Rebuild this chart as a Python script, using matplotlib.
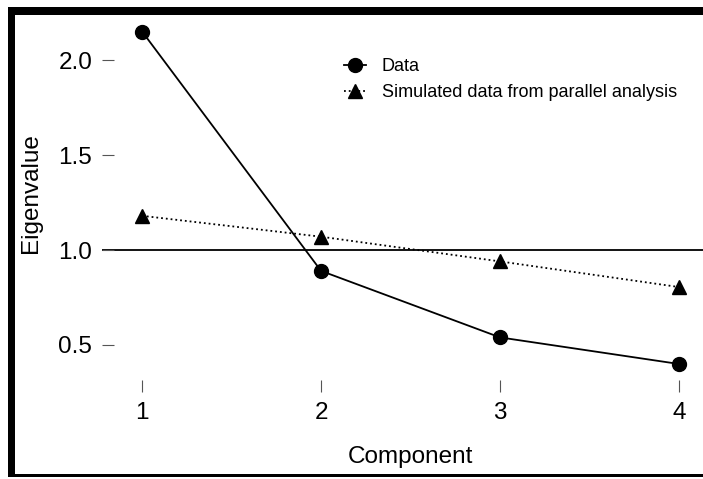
import matplotlib.pyplot as plt
from matplotlib.patches import Rectangle

plt.rcParams['font.family'] = ['Liberation Sans', 'DejaVu Sans']

# values
components = [1, 2, 3, 4]
eig_data = [2.15, 0.89, 0.54, 0.40]
eig_sim = [1.18, 1.07, 0.94, 0.805]
yticks = [0.5, 1.0, 1.5, 2.0]
ytick_labels = ['0.5', '1.0', '1.5', '2.0']

W, H = 703, 479
fig = plt.figure(figsize=(W / 100, H / 100), dpi=100)

# axes placed in pixel terms
left, right, top, bottom = 102, 703, 15, 392
ax = fig.add_axes([left / W, 1 - bottom / H, (right - left) / W, (bottom - top) / H])
ax.set_xlim(0.776, 4.134)
ax.set_ylim(0.2526, 2.237)
for s in ax.spines.values():
    s.set_visible(False)

ax.axhline(1.0, color='black', lw=1.3, zorder=1)
ax.plot(components, eig_data, '-', color='black', lw=1.3, marker='o',
        markersize=10, label='Data', zorder=3)
ax.plot(components, eig_sim, ':', color='black', lw=1.3, marker='^',
        markersize=10.5, label='Simulated data from parallel analysis', zorder=3)

ax.set_xticks(components)
ax.set_xticklabels([str(c) for c in components])
ax.set_yticks(yticks)
ax.set_yticklabels(ytick_labels)
ax.tick_params(axis='both', direction='in', length=8.5, width=0.8,
               color='#555555', labelsize=17.5, pad=7)
ax.tick_params(axis='y', pad=7)

fig.text(31 / W, 1 - 193 / H, 'Eigenvalue', rotation=90, ha='center',
         va='center', fontsize=17.5)
fig.text(410 / W, 1 - 457 / H, 'Component', ha='center', va='center',
         fontsize=17.5)

ax.legend(loc='upper left', bbox_to_anchor=(344 / W, 1 - 58 / H),
          bbox_transform=fig.transFigure, frameon=False, fontsize=13,
          handlelength=1.2, handletextpad=0.9, labelspacing=0.5,
          borderpad=0, borderaxespad=0)

# frame pieces around the figure
fig.add_artist(Rectangle((8 / W, 1 - 477 / H), 7 / W, 470 / H,
                         transform=fig.transFigure, color='black', lw=0))
fig.add_artist(Rectangle((8 / W, 1 - 15 / H), 695 / W, 8 / H,
                         transform=fig.transFigure, color='black', lw=0))
fig.add_artist(Rectangle((8 / W, 1 - 477 / H), 695 / W, 3 / H,
                         transform=fig.transFigure, color='black', lw=0))

fig.savefig('out.png', dpi=100)
